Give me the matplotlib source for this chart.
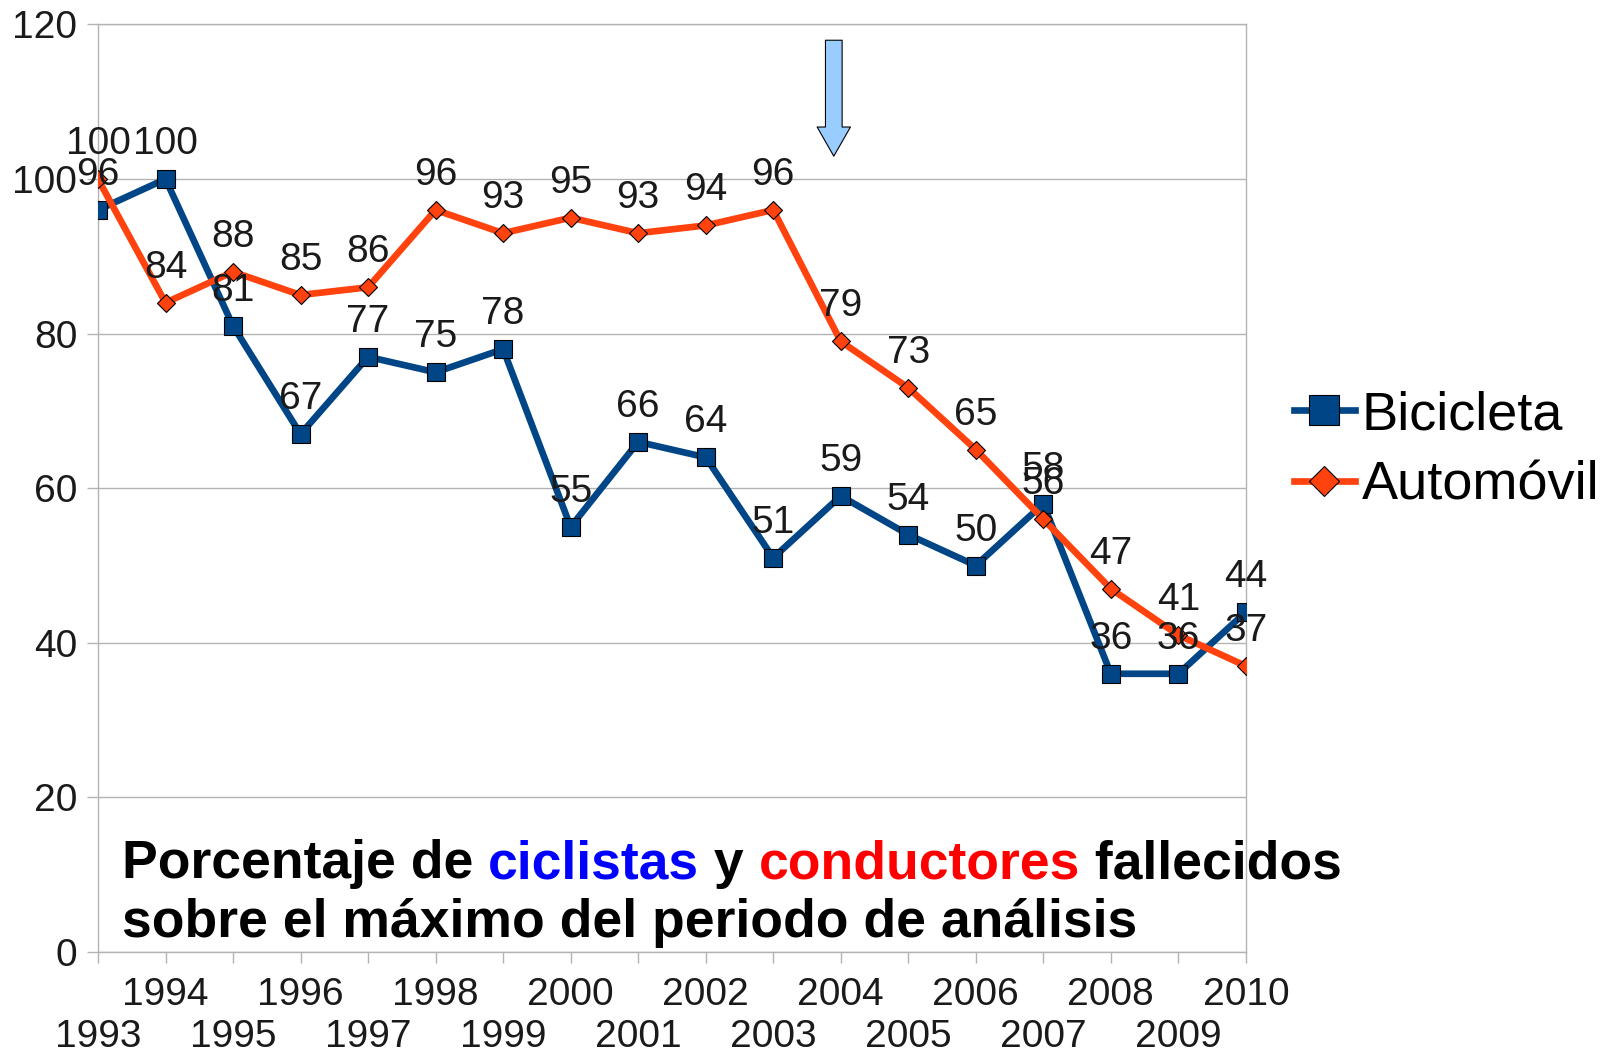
import numpy as np
import matplotlib.pyplot as plt

plt.rcParams['font.family'] = ['Liberation Sans', 'DejaVu Sans']

# datos
years = list(range(1993, 2011))
bicicleta = [96, 100, 81, 67, 77, 75, 78, 55, 66, 64, 51, 59, 54, 50, 58, 36, 36, 44]
automovil = [100, 84, 88, 85, 86, 96, 93, 95, 93, 94, 96, 79, 73, 65, 56, 47, 41, 37]
yticks = [0, 20, 40, 60, 80, 100, 120]
series_names = ['Bicicleta', 'Automóvil']

c_bici = '#004586'
c_auto = '#ff420e'
gris = '#b3b3b3'
fs = 28

fig = plt.figure(figsize=(16.01, 10.5), dpi=100)
ax = fig.add_axes([0.0612, 0.0933, 0.717, 0.8834])

ax.plot(years, bicicleta, color=c_bici, lw=4.8, marker='s', ms=13,
        mfc=c_bici, mec='black', mew=0.8, label=series_names[0], zorder=3)
ax.plot(years, automovil, color=c_auto, lw=4.8, marker='D', ms=9,
        mfc=c_auto, mec='black', mew=0.8, label=series_names[1], zorder=4)

# etiquetas de valores
for serie in (bicicleta, automovil):
    for x, v in zip(years, serie):
        ax.annotate(str(v), xy=(x, v), xytext=(0, 18), textcoords='offset points',
                    ha='center', va='baseline', fontsize=fs, color='#1a1a1a', zorder=6)

ax.set_xlim(years[0], years[-1])
ax.set_ylim(yticks[0], yticks[-1])
ax.set_yticks(yticks)
ax.set_yticklabels([str(t) for t in yticks])
ax.set_xticks(years[1::2])
ax.set_xticklabels([str(y) for y in years[1::2]])
ax.set_xticks(years[0::2], minor=True)
ax.set_xticklabels([str(y) for y in years[0::2]], minor=True)

ax.tick_params(axis='y', length=8, width=1, color=gris, pad=7, labelsize=fs, labelcolor='#1a1a1a')
ax.tick_params(axis='x', which='major', length=8, width=1, color=gris, pad=10,
               labelsize=fs, labelcolor='#1a1a1a')
ax.tick_params(axis='x', which='minor', length=8, width=1, color=gris, pad=40.5,
               labelsize=fs, labelcolor='#1a1a1a')

ax.grid(axis='y', color=gris, lw=1)
ax.set_axisbelow(True)
for s in ax.spines.values():
    s.set_color(gris)
    s.set_linewidth(1)

# flecha
ax.annotate('', xy=(0.641, 0.858), xytext=(0.641, 0.983), xycoords='axes fraction',
            arrowprops=dict(arrowstyle='simple,head_length=21,head_width=24,tail_width=12',
                            mutation_scale=1, fc='#99ccff', ec='black', lw=0.8,
                            shrinkA=0, shrinkB=0))

# titulo en varios colores
tfs = 38.5
partes = [('Porcentaje de ', 'black'), ('ciclistas', '#0000ff'), (' y ', 'black'),
          ('conductores', '#ff0000'), (' fallecidos', 'black')]
prev = ax.text(0.0205, 0.0798, partes[0][0], transform=ax.transAxes, fontsize=tfs,
               fontweight='bold', color=partes[0][1], va='baseline', ha='left', zorder=7)
for txt, col in partes[1:]:
    prev = ax.annotate(txt, xy=(1, 0), xycoords=prev, va='bottom', ha='left',
                       fontsize=tfs, fontweight='bold', color=col, zorder=7)
ax.text(0.0205, 0.0162, 'sobre el máximo del periodo de análisis', transform=ax.transAxes,
        fontsize=tfs, fontweight='bold', color='black', va='baseline', ha='left', zorder=7)

fig.legend(loc='center left', bbox_to_anchor=(0.808, 0.571), frameon=False, fontsize=39,
           borderpad=0, borderaxespad=0, handlelength=1.13, handletextpad=0.13,
           labelspacing=0.38, markerscale=1.65)

fig.savefig('out.png', dpi=100)
